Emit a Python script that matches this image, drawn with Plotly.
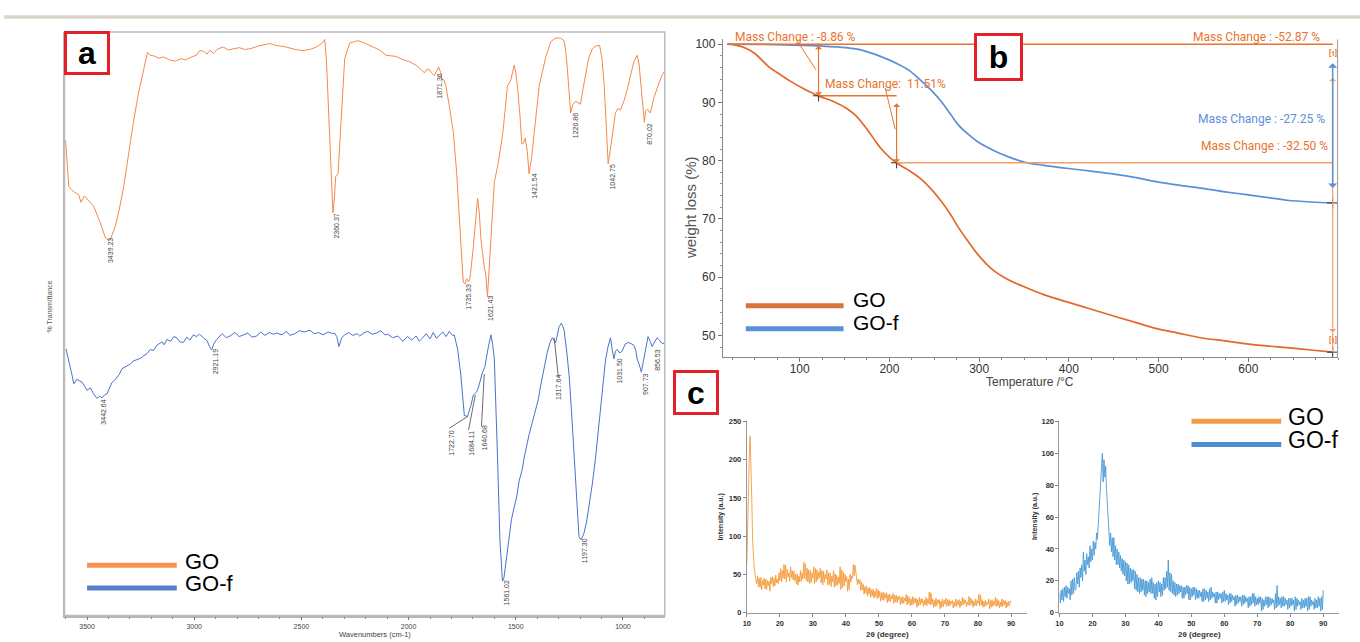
import plotly.graph_objects as go

W, H = 1360, 642


def px(x):
    return x / W


def py(y):
    return 1 - y / H


series_names = ["GO", "GO-f"]

# ---------------- (a) FTIR ----------------
ftir_go_wn = [3600, 3585, 3562, 3539, 3528, 3512, 3490, 3469, 3438, 3414, 3400, 3391, 3368, 3350, 3329, 3305, 3283, 3260,
              3244, 3218, 3205, 3190, 3165, 3143, 3115, 3089, 3060, 3040, 3019, 2990, 2975, 2957, 2940, 2925, 2911, 2890,
              2864, 2840, 2818, 2790, 2765, 2740, 2700, 2670, 2647, 2620, 2570, 2530, 2492, 2460, 2430, 2405, 2391, 2383,
              2376, 2365, 2353, 2346, 2340, 2329, 2314, 2298, 2275, 2236, 2200, 2167, 2135, 2105, 2058, 2030, 1996, 1965,
              1940, 1926, 1915, 1903, 1890, 1880, 1870, 1860, 1850, 1844, 1835, 1826, 1810, 1791, 1776, 1760, 1745, 1737,
              1729, 1720, 1714, 1698, 1685, 1678, 1670, 1663, 1647, 1640, 1632, 1624, 1616, 1600, 1585, 1575, 1562, 1550,
              1539, 1523, 1507, 1500, 1492, 1480, 1472, 1465, 1456, 1446, 1438, 1426, 1414, 1400, 1391, 1375, 1360, 1337,
              1320, 1306, 1290, 1275, 1268, 1260, 1250, 1244, 1235, 1221, 1210, 1198, 1185, 1174, 1160, 1143, 1125, 1109,
              1098, 1088, 1078, 1069, 1060, 1050, 1035, 1024, 1012, 995, 980, 965, 949, 934, 925, 914, 905, 900, 894, 884,
              872, 856, 840, 818, 805]
ftir_go_t = [81.4, 73.5, 72.6, 72.1, 70.8, 71.9, 71.0, 70.1, 67.3, 64.7, 64.3, 64.5, 66.7, 69.5, 73.5, 79.5, 84.7, 89.5,
             92.1, 96.5, 96.0, 95.9, 95.5, 95.7, 95.2, 95.0, 95.4, 95.2, 95.6, 96.0, 96.8, 96.7, 96.2, 96.9, 96.3, 97.1,
             97.4, 96.9, 97.1, 97.3, 97.0, 97.1, 97.6, 97.9, 98.0, 97.7, 97.4, 97.0, 96.8, 97.0, 97.4, 98.0, 98.7, 95.0,
             89.2, 78.0, 69.0, 71.5, 75.2, 75.7, 86.4, 95.4, 98.1, 98.5, 98.0, 97.4, 96.9, 96.0, 95.8, 95.3, 94.9, 94.3,
             93.4, 93.0, 93.6, 93.5, 92.9, 92.5, 93.2, 94.0, 93.0, 91.8, 91.8, 90.7, 87.3, 82.8, 76.0, 65.9, 57.1, 56.8,
             57.7, 57.2, 57.7, 63.1, 68.8, 71.5, 69.0, 64.7, 59.7, 58.5, 54.6, 59.5, 65.9, 74.3, 76.9, 79.0, 82.2, 86.5,
             90.7, 91.8, 94.3, 93.0, 90.7, 85.5, 80.8, 80.9, 81.8, 79.5, 75.7, 78.5, 82.8, 87.5, 90.7, 93.3, 95.7, 98.3,
             98.8, 99.0, 98.9, 98.5, 97.0, 94.0, 88.5, 86.1, 87.5, 88.1, 87.9, 87.6, 90.5, 92.9, 95.5, 97.1, 97.6, 97.7,
             95.5, 91.2, 84.5, 77.4, 79.5, 82.2, 86.1, 86.9, 86.6, 88.2, 90.1, 92.5, 94.9, 96.0, 94.5, 90.1, 86.5, 84.5,
             86.5, 86.7, 86.1, 88.7, 90.4, 92.6, 93.3]

ftir_gof_wn = [3598, 3590, 3580, 3570, 3562, 3547, 3535, 3523, 3510, 3500, 3484, 3470, 3453, 3440, 3430, 3418, 3407, 3395,
               3384, 3372, 3360, 3350, 3337, 3320, 3298, 3285, 3267, 3250, 3236, 3220, 3205, 3190, 3175, 3167, 3150, 3140,
               3128, 3110, 3095, 3081, 3068, 3050, 3035, 3020, 3004, 2990, 2975, 2957, 2940, 2930, 2919, 2908, 2895, 2870,
               2850, 2833, 2810, 2790, 2771, 2750, 2730, 2708, 2690, 2670, 2650, 2630, 2616, 2590, 2570, 2554, 2530, 2510,
               2484, 2460, 2440, 2420, 2399, 2375, 2355, 2345, 2335, 2325, 2312, 2298, 2280, 2260, 2240, 2228, 2210, 2190,
               2170, 2151, 2130, 2110, 2097, 2075, 2050, 2027, 2005, 1985, 1965, 1950, 1934, 1918, 1900, 1885, 1870, 1856,
               1840, 1825, 1810, 1795, 1787, 1771, 1756, 1740, 1725, 1718, 1709, 1698, 1690, 1683, 1675, 1667, 1655, 1645,
               1639, 1628, 1616, 1608, 1600, 1592, 1585, 1574, 1562, 1555, 1547, 1531, 1520, 1507, 1495, 1484, 1470, 1461,
               1450, 1438, 1420, 1407, 1395, 1384, 1370, 1353, 1340, 1329, 1314, 1298, 1287, 1275, 1263, 1251, 1240, 1228,
               1215, 1205, 1195, 1182, 1170, 1158, 1143, 1128, 1112, 1097, 1081, 1070, 1058, 1050, 1042, 1035, 1027, 1015,
               1004, 990, 976, 962, 949, 940, 934, 924, 914, 905, 898, 883, 872, 864, 852, 841, 830, 820, 805]
ftir_gof_t = [45.7, 44.5, 42.8, 41.2, 39.7, 40.5, 40.2, 40.0, 39.2, 38.6, 39.0, 38.0, 37.2, 37.6, 37.3, 37.8, 38.0, 39.0,
              39.9, 40.3, 40.8, 41.3, 42.3, 42.6, 43.1, 43.6, 43.9, 44.1, 44.5, 44.9, 45.6, 45.4, 46.3, 46.5, 46.9, 46.4,
              47.3, 47.0, 47.8, 47.6, 46.9, 46.8, 47.7, 47.2, 48.1, 47.8, 48.2, 47.6, 47.1, 46.2, 45.5, 46.6, 47.3, 48.3,
              47.6, 47.9, 48.5, 47.8, 48.1, 48.4, 47.7, 47.9, 48.6, 48.0, 48.5, 48.2, 48.4, 48.1, 48.7, 48.0, 48.3, 48.8,
              48.6, 48.9, 48.3, 48.5, 48.1, 48.6, 48.3, 48.4, 47.8, 46.1, 47.6, 48.1, 48.5, 48.0, 48.3, 47.9, 48.4, 48.7,
              48.2, 48.4, 48.8, 48.1, 48.2, 47.6, 47.9, 47.0, 47.8, 47.2, 47.9, 47.0, 47.6, 48.3, 47.4, 48.5, 47.5, 48.1,
              48.6, 47.8, 48.7, 48.0, 48.1, 45.6, 41.1, 34.3, 34.1, 35.0, 36.0, 37.8, 38.0, 38.3, 39.0, 40.3, 41.7, 42.5,
              43.9, 46.0, 48.1, 46.5, 43.9, 36.0, 27.0, 13.0, 5.9, 6.5, 9.0, 14.1, 16.5, 18.6, 20.5, 23.1, 25.0, 27.0,
              29.0, 31.0, 33.5, 35.5, 37.0, 39.4, 42.0, 45.1, 46.8, 47.6, 46.7, 49.5, 50.1, 49.0, 45.5, 41.1, 35.0, 27.0,
              19.0, 13.5, 13.0, 14.1, 16.0, 18.6, 22.5, 27.0, 32.5, 38.3, 43.9, 46.0, 47.6, 45.5, 44.0, 45.3, 45.6, 45.0,
              45.3, 46.5, 46.8, 46.6, 46.3, 45.4, 44.0, 43.0, 41.7, 43.5, 45.1, 47.8, 46.9, 46.1, 46.9, 47.6, 47.2, 46.7,
              46.6]

ftir_go_peak_labels = ["3439.23", "2360.37", "1871.36", "1735.33", "1621.43", "1421.54", "1220.86", "1042.75", "870.02"]
ftir_go_peak_x = [3387, 2337, 1856, 1720, 1616, 1414, 1224, 1047, 880]
ftir_go_peak_y = [62.5, 66.7, 90.7, 54.6, 52.7, 73.5, 84.0, 75.2, 82.5]

ftir_gof_peak_labels = ["3442.64", "2921.19", "1722.70", "1684.11", "1640.68", "1561.02", "1317.64", "1197.30",
                        "1031.50", "907.73", "856.53"]
ftir_gof_peak_x = [3422, 2903, 1798, 1705, 1647, 1543, 1298, 1182, 1016, 892, 839]
ftir_gof_peak_y = [34.9, 43.4, 29.6, 29.6, 30.4, 3.9, 39.0, 11.2, 41.9, 39.7, 43.9]

# leader lines for crowded labels: (x0, y0, x1, y1)
ftir_leaders = [(1810, 32.1, 1725, 34.1), (1720, 31.8, 1689, 37.8), (1660, 32.4, 1647, 41.4),
                (1301, 40.8, 1321, 47.6)]
ftir_ticks = [3500, 3000, 2500, 2000, 1500, 1000]

# ---------------- (b) TGA ----------------
tga_go_T = [19.4, 30, 40, 50, 65, 80, 89, 105, 121, 137, 152, 162, 171, 181, 190.6, 200, 208, 220, 234, 246, 258, 268,
            277, 288, 298, 315.6, 332, 349.5, 372, 397, 425, 450.7, 475, 497, 522, 547, 572, 596, 620, 643, 670, 694]
tga_go_w = [100, 99.8, 99.3, 98.4, 96.2, 94.6, 93.7, 92.3, 91.1, 90.2, 89.0, 87.8, 86.2, 84.1, 82.1, 80.6, 79.6, 78.5,
            77.0, 75.2, 73.0, 70.8, 68.5, 66.1, 64.0, 61.2, 59.6, 58.4, 57.0, 55.8, 54.5, 53.3, 52.2, 51.2, 50.4, 49.6,
            49.1, 48.6, 48.2, 47.9, 47.5, 47.13]
tga_gof_T = [19.4, 60, 100, 121, 152, 171, 190, 208, 222, 234, 246, 258, 268, 277, 288, 298, 315.6, 332, 349.5, 372,
             397, 425, 450.7, 475, 497, 522, 547, 572, 596, 620, 643, 670, 694]
tga_gof_w = [100, 99.95, 99.8, 99.7, 99.4, 98.9, 97.9, 96.7, 95.5, 93.9, 92.2, 90.1, 88.0, 86.1, 84.5, 83.3, 81.8, 80.7,
             79.8, 79.2, 78.7, 78.2, 77.7, 77.1, 76.4, 75.8, 75.3, 74.7, 74.2, 73.7, 73.2, 72.9, 72.75]
tga_step_T = [121, 208, 694]
tga_step_w = [91.14, 79.63, 47.13]
tga_gof_end_w = 72.75
tga_xticks = [100, 200, 300, 400, 500, 600]
tga_yticks = [50, 60, 70, 80, 90, 100]
mass_labels = ["Mass Change : -8.86 %", "Mass Change:  11.51%", "Mass Change : -52.87 %",
               "Mass Change : -27.25 %", "Mass Change : -32.50 %"]

# ---------------- (c) XRD (0.25 degree steps from 10 to 90) ----------------
xrd_go = [62, 110, 185, 205, 231, 200, 150, 95, 70, 58, 50, 42, 38, 48, 34, 45, 33, 46, 30, 42,
          36, 45, 31, 44, 30, 42, 35, 41, 28, 46, 38, 47, 34, 45, 35, 49, 39, 44, 38, 52,
          42, 58, 40, 55, 45, 63, 44, 62, 40, 57, 47, 52, 41, 60, 46, 55, 43, 54, 42, 50,
          38, 51, 36, 48, 40, 55, 41, 52, 44, 66, 45, 64, 42, 58, 40, 56, 38, 55, 39, 52,
          45, 60, 38, 58, 40, 56, 43, 53, 46, 58, 39, 55, 36, 54, 40, 50, 44, 56, 36, 52,
          37, 52, 34, 48, 40, 55, 33, 51, 35, 49, 36, 46, 38, 60, 30, 56, 33, 53, 35, 50,
          40, 47, 28, 44, 30, 50, 40, 48, 45, 63, 48, 62, 50, 46, 36, 44, 38, 43, 29, 40,
          30, 37, 24, 34, 26, 35, 22, 32, 24, 33, 20, 30, 22, 31, 19, 28, 21, 32, 18, 30,
          20, 28, 15, 26, 17, 27, 16, 25, 19, 26, 13, 24, 15, 24, 14, 22, 18, 25, 12, 23,
          14, 23, 13, 21, 17, 22, 10, 20, 12, 21, 12, 19, 15, 24, 10, 22, 12, 20, 9, 18,
          10, 21, 11, 19, 13, 19, 7, 17, 9, 20, 10, 18, 12, 18, 8, 16, 10, 20, 9, 18,
          12, 27, 10, 26, 11, 18, 7, 16, 8, 19, 9, 17, 12, 17, 5, 15, 7, 18, 8, 16,
          11, 19, 8, 17, 9, 17, 9, 15, 12, 16, 6, 14, 8, 18, 8, 16, 10, 17, 7, 15,
          9, 20, 10, 18, 12, 16, 8, 14, 10, 21, 9, 19, 11, 17, 7, 15, 9, 18, 9, 16,
          12, 24, 9, 23, 10, 17, 7, 15, 8, 16, 9, 14, 11, 18, 5, 16, 7, 17, 8, 15,
          10, 20, 8, 18, 9, 16, 6, 14, 8, 18, 8, 16, 10, 16, 6, 14, 8, 15, 9, 13,
          16]
xrd_gof = [12, 6, 14, 8, 15, 7, 16, 10, 17, 9, 16, 12, 15, 8, 20, 11, 21, 12, 22, 14,
           15, 25, 18, 26, 16, 28, 22, 30, 20, 38, 26, 33, 24, 37, 30, 35, 28, 42, 32, 40,
           33, 45, 36, 44, 40, 50, 46, 55, 58, 68, 75, 90, 100, 82, 96, 85, 92, 78, 70, 62,
           55, 42, 50, 38, 47, 35, 47, 33, 42, 30, 40, 30, 38, 28, 36, 26, 34, 24, 33, 23,
           32, 20, 31, 18, 30, 18, 28, 19, 27, 20, 27, 15, 26, 14, 24, 13, 22, 12, 22, 13,
           21, 14, 21, 11, 20, 10, 20, 12, 19, 13, 21, 12, 22, 12, 19, 9, 18, 8, 19, 10,
           20, 13, 19, 10, 18, 11, 22, 14, 22, 15, 26, 16, 33, 14, 25, 13, 24, 12, 20, 11,
           19, 10, 18, 11, 18, 12, 17, 13, 17, 9, 16, 9, 16, 11, 17, 12, 17, 8, 16, 8,
           15, 10, 16, 11, 16, 8, 15, 9, 14, 9, 14, 10, 13, 7, 15, 7, 15, 8, 14, 9,
           13, 7, 15, 8, 16, 9, 13, 10, 12, 6, 13, 6, 13, 8, 12, 9, 12, 6, 13, 7,
           14, 7, 12, 8, 11, 5, 12, 6, 12, 7, 11, 8, 10, 4, 11, 5, 11, 6, 10, 7,
           10, 4, 11, 5, 11, 6, 10, 7, 9, 3, 10, 4, 10, 5, 12, 6, 12, 4, 10, 5,
           9, 5, 10, 6, 10, 1, 9, 2, 8, 4, 10, 5, 10, 3, 10, 4, 9, 5, 9, 6,
           8, 2, 12, 3, 17, 4, 10, 5, 9, 3, 10, 4, 10, 4, 9, 5, 8, 2, 9, 3,
           9, 4, 9, 5, 8, 1, 10, 2, 9, 4, 8, 5, 7, 2, 9, 3, 8, 3, 9, 4,
           9, 1, 10, 2, 10, 4, 8, 5, 7, 2, 9, 3, 8, 3, 10, 4, 9, 1, 10, 2,
           14]
xrd_two_theta = [10 + 0.25 * i for i in range(len(xrd_go))]
xrd_xticks = [10, 20, 30, 40, 50, 60, 70, 80, 90]
xrd_go_yticks = [0, 50, 100, 150, 200, 250]
xrd_gof_yticks = [0, 20, 40, 60, 80, 100, 120]

# ---------------- styling ----------------
FT_OR, FT_BL = "#F4894B", "#4A72C8"
TG_OR, TG_BL = "#E2692A", "#5B8FD8"
AN_OR, AN_OR_L, AN_BL = "#E8742C", "#F4A068", "#5B8FD8"
XR_OR, XR_BL = "#F59B3C", "#4A9AD6"
SANS = "Liberation Sans, Arial, sans-serif"
NARROW = "Roboto, Liberation Sans, sans-serif"

fig = go.Figure()

fig.add_trace(go.Scatter(x=ftir_go_wn, y=ftir_go_t, mode="lines", line=dict(color=FT_OR, width=1),
                         name=series_names[0], xaxis="x", yaxis="y"))
fig.add_trace(go.Scatter(x=ftir_gof_wn, y=ftir_gof_t, mode="lines", line=dict(color=FT_BL, width=1),
                         name=series_names[1], xaxis="x", yaxis="y"))

fig.add_trace(go.Scatter(x=tga_go_T, y=tga_go_w, mode="lines", line=dict(color=TG_OR, width=1.7, shape="spline"),
                         name=series_names[0], xaxis="x2", yaxis="y2"))
fig.add_trace(go.Scatter(x=tga_gof_T, y=tga_gof_w, mode="lines", line=dict(color=TG_BL, width=1.7, shape="spline"),
                         name=series_names[1], xaxis="x2", yaxis="y2"))
fig.add_trace(go.Scatter(x=tga_step_T[:2] + [tga_step_T[2], tga_step_T[2]],
                         y=tga_step_w[:2] + [tga_gof_end_w, tga_step_w[2]],
                         mode="markers", marker=dict(symbol="cross-thin", size=8, line=dict(color="#333", width=1)),
                         xaxis="x2", yaxis="y2", hoverinfo="skip"))

fig.add_trace(go.Scatter(x=xrd_two_theta, y=xrd_go, mode="lines", line=dict(color=XR_OR, width=0.9),
                         name=series_names[0], xaxis="x3", yaxis="y3"))
fig.add_trace(go.Scatter(x=xrd_two_theta, y=xrd_gof, mode="lines", line=dict(color=XR_BL, width=0.9),
                         name=series_names[1], xaxis="x4", yaxis="y4"))

tick_small = dict(size=7, color="#444", family=SANS)
xrd_tick = dict(size=7.5, color="#333", family=SANS, weight="bold")

fig.update_layout(
    width=W, height=H, margin=dict(l=0, r=0, t=0, b=0), paper_bgcolor="white", plot_bgcolor="rgba(0,0,0,0)",
    showlegend=False,
    xaxis=dict(domain=[px(60.7), px(662.7)], range=[3605, 805], anchor="y", tickvals=ftir_ticks, ticks="outside",
               ticklen=3, tickcolor="#777", tickfont=tick_small, showline=True, linecolor="#b5b5b5", linewidth=1.5,
               showgrid=False, zeroline=False,
               minor=dict(dtick=100, ticks="outside", ticklen=2, tickcolor="#888")),
    yaxis=dict(domain=[py(620.3), py(28.3)], range=[0, 100], anchor="x", showticklabels=False, ticks="",
               showline=True, linecolor="#b5b5b5", linewidth=1.5, showgrid=False, zeroline=False),
    xaxis2=dict(domain=[px(721), px(1338)], range=[14.4, 700], anchor="y2", tickvals=tga_xticks, ticks="outside",
                ticklen=4, tickcolor="#777", tickfont=dict(size=12, color="#333", family=SANS), showline=True,
                linecolor="#888", showgrid=False, zeroline=False, ticklabelstandoff=-3,
                minor=dict(dtick=25, ticks="outside", ticklen=2, tickcolor="#888")),
    yaxis2=dict(domain=[py(358), py(36)], range=[46.3, 100.8], anchor="x2", tickvals=tga_yticks, ticks="outside",
                ticklen=4, tickcolor="#777", tickfont=dict(size=12, color="#333", family=SANS), showline=True,
                linecolor="#888", showgrid=False, zeroline=False,
                minor=dict(dtick=2, ticks="outside", ticklen=2, tickcolor="#999")),
    xaxis3=dict(domain=[px(745), px(1025.6)], range=[10, 94.7], anchor="y3", tickvals=xrd_xticks, ticks="outside",
                ticklen=3, tickcolor="#888", tickfont=xrd_tick, showline=True, linecolor="#999", showgrid=False,
                zeroline=False),
    yaxis3=dict(domain=[py(617.3), py(423.3)], range=[0, 250], anchor="x3", tickvals=xrd_go_yticks, ticks="outside",
                ticklen=3, tickcolor="#888", tickfont=xrd_tick, showline=True, linecolor="#999", showgrid=False,
                zeroline=False),
    xaxis4=dict(domain=[px(1058.6), px(1339)], range=[10, 94.8], anchor="y4", tickvals=xrd_xticks, ticks="outside",
                ticklen=3, tickcolor="#888", tickfont=xrd_tick, showline=True, linecolor="#999", showgrid=False,
                zeroline=False),
    yaxis4=dict(domain=[py(617.3), py(423.3)], range=[0, 120], anchor="x4", tickvals=xrd_gof_yticks, ticks="outside",
                ticklen=3, tickcolor="#888", tickfont=xrd_tick, showline=True, linecolor="#999", showgrid=False,
                zeroline=False),
)

shapes = []
ann = []


def text_at(x, y, text, size, color, family=SANS, angle=0, xa="center", ya="middle"):
    ann.append(dict(x=px(x), y=py(y), xref="paper", yref="paper", text=text, showarrow=False, textangle=angle,
                    xanchor=xa, yanchor=ya, font=dict(size=size, color=color, family=family)))


# page top rule
shapes.append(dict(type="rect", xref="paper", yref="paper", x0=0, x1=1, y0=py(15), y1=py(11.5),
                   fillcolor="#DCD6CA", line=dict(width=0), layer="below"))
# FTIR frame
shapes.append(dict(type="rect", xref="paper", yref="paper", x0=px(60.7), x1=px(662.7), y0=py(620.3), y1=py(28.3),
                   line=dict(color="#bdbdbd", width=1.5)))
# TGA right border
shapes.append(dict(type="line", xref="paper", yref="paper", x0=px(1337.5), x1=px(1337.5), y0=py(358), y1=py(36),
                   line=dict(color="#999", width=1)))

# FTIR peak labels
for labels, xs, ys in ((ftir_go_peak_labels, ftir_go_peak_x, ftir_go_peak_y),
                       (ftir_gof_peak_labels, ftir_gof_peak_x, ftir_gof_peak_y)):
    for t, x, y in zip(labels, xs, ys):
        ann.append(dict(x=x, y=y, xref="x", yref="y", text=t, showarrow=False, textangle=-90,
                        xanchor="center", yanchor="middle", font=dict(size=7, color="#444", family=SANS)))
for (x0, y0, x1, y1) in ftir_leaders:
    shapes.append(dict(type="line", xref="x", yref="y", x0=x0, y0=y0, x1=x1, y1=y1,
                       line=dict(color="#444", width=0.8)))

text_at(46, 307, "% Transmittance", 7, "#555", angle=-90)
text_at(372, 639, "Wavenumbers (cm-1)", 7.5, "#444")

# TGA guide lines
T0, T1, T2 = tga_step_T
w1, w2, w3 = tga_step_w
shapes.append(dict(type="line", xref="x2", yref="y2", x0=19.4, x1=T2, y0=100, y1=100,
                   line=dict(color=AN_OR, width=1.5)))
shapes.append(dict(type="line", xref="x2", yref="y2", x0=T0, x1=T1, y0=w1, y1=w1,
                   line=dict(color=AN_OR, width=1.3)))
shapes.append(dict(type="line", xref="x2", yref="y2", x0=T1, x1=T2, y0=w2, y1=w2,
                   line=dict(color=AN_OR_L, width=1.5)))
shapes.append(dict(type="line", xref="x2", yref="y2", x0=T2, x1=T2, y0=50.5, y1=w3,
                   line=dict(color=AN_OR_L, width=1.3)))
# leaders from texts
shapes.append(dict(type="line", xref="x2", yref="y2", x0=96.6, y0=100.7, x1=118.2, y1=95.6,
                   line=dict(color=AN_OR, width=1)))
shapes.append(dict(type="line", xref="x2", yref="y2", x0=195.3, y0=92.5, x1=206.4, y1=85.4,
                   line=dict(color=AN_OR, width=1)))


def dbl_arrow(x, y_top, y_bot, color, width=1.2):
    return dict(x=x, y=y_bot, ax=x, ay=y_top, xref="x2", yref="y2", axref="x2", ayref="y2", text="",
                showarrow=True, arrowside="end+start", arrowhead=1, startarrowhead=1, arrowsize=1,
                startarrowsize=1, arrowwidth=width, arrowcolor=color)


ann.append(dbl_arrow(T0, 100, w1, AN_OR))
ann.append(dbl_arrow(T1, 90.1, w2, AN_OR))
ann.append(dbl_arrow(T2, 94.5, 50.5, AN_OR_L))
ann.append(dbl_arrow(T2, 97.0, 75.3, AN_BL, 1.5))

MS = 12
text_at(731, 33.3, mass_labels[0], MS, AN_OR, NARROW, xa="left")
text_at(821, 81, mass_labels[1], MS, AN_OR, NARROW, xa="left")
text_at(1321.7, 33.3, mass_labels[2], MS, AN_OR, NARROW, xa="right")
text_at(1326.5, 116.7, mass_labels[3], MS, AN_BL, NARROW, xa="right")
text_at(1329.5, 144, mass_labels[4], MS, AN_OR, NARROW, xa="right")
for yy in (50, 341.7):
    text_at(1333, yy, "<b>[1]</b>", 7, AN_OR, NARROW)

text_at(688, 206, "weight loss (%)", 15, "#555", angle=-90)
text_at(1029.5, 383, "Temperature /°C", 12, "#444")

# XRD axis titles
for xx in (719, 1033.4):
    text_at(xx, 520, "<b>Intensity (a.u.)</b>", 7, "#333", angle=-90)
for xx in (886, 1199.5):
    text_at(xx, 639, "<b>2θ (degree)</b>", 8, "#333")


# legends (drawn)
def legend(x0, x1, ly, tx, ty, colors, size, lw=5):
    for c, yl, yt, name in zip(colors, ly, ty, series_names):
        shapes.append(dict(type="line", xref="paper", yref="paper", x0=px(x0), x1=px(x1), y0=py(yl), y1=py(yl),
                           line=dict(color=c, width=lw)))
        text_at(tx, yt, name, size, "black", xa="left")


legend(83.3, 173.3, (569.3, 592.3), 180, (565, 588), ("#F5924E", "#5580CC"), 22)
legend(744, 842, (306, 329.3), 849, (299.5, 323.5), ("#D9733A", "#5B8ED8"), 21)
legend(1191, 1281, (423.3, 446.7), 1286, (418.5, 442.5), ("#F79A45", "#4A8FD6"), 23)


# panel tags
def tag(cx, cy, letter, w=40, h=38):
    ann.append(dict(x=px(cx), y=py(cy), xref="paper", yref="paper", text=f"<b>{letter}</b>", showarrow=False,
                    xanchor="center", yanchor="middle", width=w, height=h, bgcolor="white", bordercolor="#E3212B",
                    borderwidth=3, borderpad=0, font=dict(size=32, color="black", family=SANS)))


tag(83.4, 50.2, "a")
tag(997.5, 54, "b", 43, 42)
tag(694.5, 394, "c", 40, 39)

fig.update_layout(shapes=shapes, annotations=ann)
fig.write_html(
    "out.html",
    config={"displayModeBar": False},
    post_script="document.documentElement.style.margin='0';document.body.style.margin='0';"
                "document.body.style.padding='0';document.body.style.overflow='hidden';",
)
